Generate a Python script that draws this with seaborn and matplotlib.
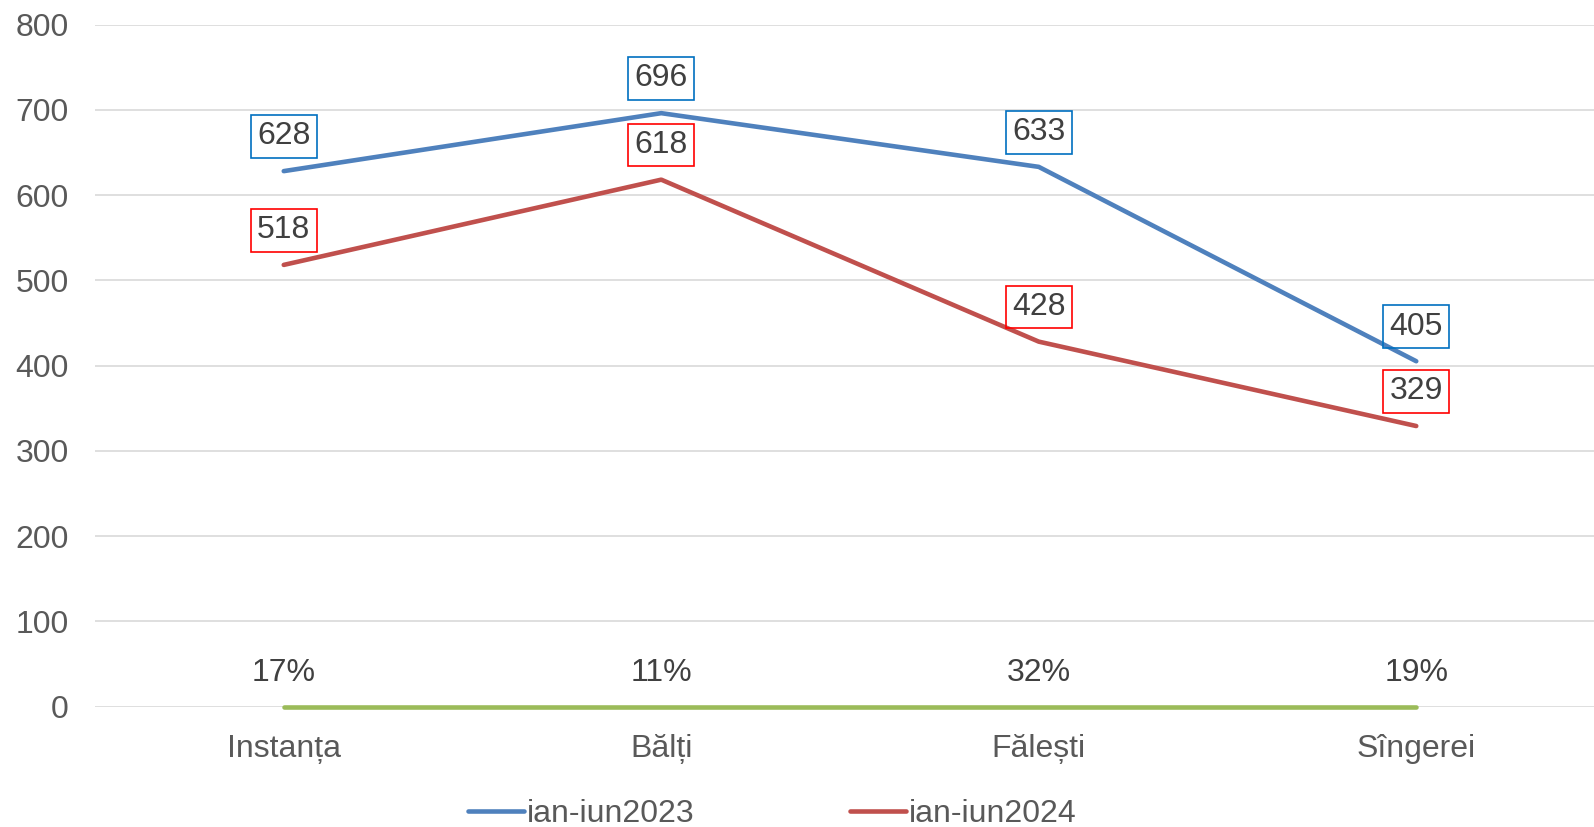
import numpy as np
import pandas as pd
import matplotlib
matplotlib.use('Agg')
import matplotlib.pyplot as plt
import seaborn as sns

# data
categorii = ['Instanța', 'Bălți', 'Fălești', 'Sîngerei']
v2023 = [628, 696, 633, 405]
v2024 = [518, 618, 428, 329]
procente = ['17%', '11%', '32%', '19%']
baza = [0, 0, 0, 0]

sns.set_style('white')
plt.rcParams['font.family'] = ['Liberation Sans', 'DejaVu Sans']

df = pd.DataFrame({'cat': categorii, 'ian-iun2023': v2023, 'ian-iun2024': v2024, 'baza': baza})
df['x'] = np.arange(len(categorii))

fig = plt.figure(figsize=(15.94, 8.27), dpi=100)
ax = fig.add_axes([95/1594, 1-706.5/827, 1510/1594, (706.5-24.5)/827])

sns.lineplot(data=df, x='x', y='ian-iun2023', ax=ax, color='#4F81BD', lw=3.3, label='ian-iun2023', solid_capstyle='round')
sns.lineplot(data=df, x='x', y='ian-iun2024', ax=ax, color='#C0504D', lw=3.3, label='ian-iun2024', solid_capstyle='round')
sns.lineplot(data=df, x='x', y='baza', ax=ax, color='#9BBB59', lw=3.3, solid_capstyle='round', legend=False)
for ln in ax.lines:
    ln.set_clip_on(False)

fs = 23
for i in range(len(categorii)):
    ax.annotate(str(v2023[i]), (i, v2023[i]), xytext=(0, 25), textcoords='offset points',
                ha='center', va='center', fontsize=fs, color='#404040',
                bbox=dict(boxstyle='square,pad=0.2', fc='none', ec='#0070C0', lw=1.2))
    ax.annotate(str(v2024[i]), (i, v2024[i]), xytext=(0, 25), textcoords='offset points',
                ha='center', va='center', fontsize=fs, color='#404040',
                bbox=dict(boxstyle='square,pad=0.2', fc='none', ec='#FF0000', lw=1.2))
    ax.annotate(procente[i], (i, baza[i]), xytext=(0, 24), textcoords='offset points',
                ha='center', va='center', fontsize=fs, color='#404040')

ax.set_xlim(-0.5, 3.5)
ax.set_ylim(0, 800)
ax.set_yticks(range(0, 801, 100))
ax.set_xticks(df['x'])
ax.set_xticklabels(categorii)
ax.set_xlabel('')
ax.set_ylabel('')
ax.grid(axis='y', color='#D9D9D9', lw=1.2)
ax.set_axisbelow(True)
for s in ax.spines.values():
    s.set_visible(False)
ax.tick_params(axis='both', length=0, labelsize=fs, labelcolor='#595959')
ax.tick_params(axis='y', pad=19)
ax.tick_params(axis='x', pad=19.5)

ax.get_legend().remove()
h, l = ax.get_legend_handles_labels()
fig.legend(h, l, loc='center', bbox_to_anchor=(0.4845, 1-814/827), ncol=2, frameon=False,
           fontsize=fs, handlelength=1.75, handletextpad=0.1, columnspacing=4.85, labelcolor='#595959')

fig.savefig('out.png', dpi=100)
